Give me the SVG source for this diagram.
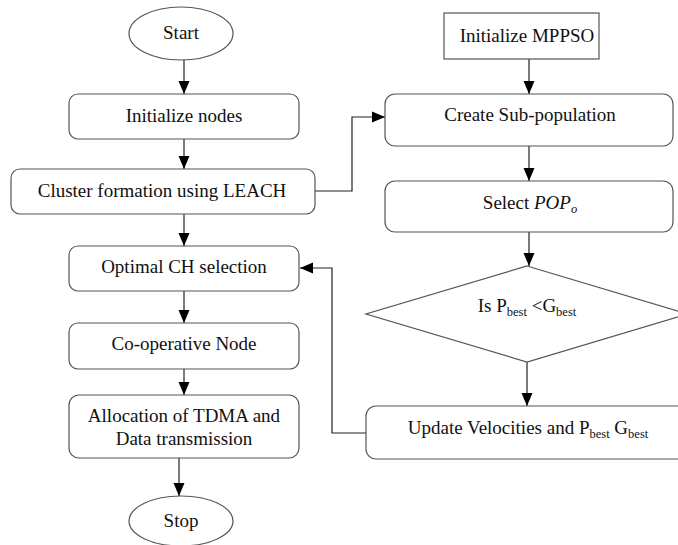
<svg xmlns="http://www.w3.org/2000/svg" width="678" height="545" viewBox="0 0 678 545">
<style>
.box{fill:#fff;stroke:#555;stroke-width:1.2}
.t{font-family:'Liberation Serif',serif;font-size:19px;fill:#111;text-anchor:middle}
.sub{font-size:12.5px}
.c{fill:none;stroke:#222;stroke-width:1.2}
</style>
<defs>
<marker id="ah" markerUnits="userSpaceOnUse" markerWidth="14" markerHeight="14" viewBox="0 0 14 14" refX="13" refY="7" orient="auto">
<path d="M0,1.5 L13,7 L0,12.5 Z" fill="#000"/>
</marker>
</defs>
<rect width="678" height="545" fill="#fff"/>
<g id="connectors">
<line class="c" x1="184" y1="60" x2="184" y2="94" marker-end="url(#ah)"/>
<line class="c" x1="184" y1="139" x2="184" y2="169" marker-end="url(#ah)"/>
<line class="c" x1="184" y1="214" x2="184" y2="246" marker-end="url(#ah)"/>
<line class="c" x1="184" y1="291" x2="184" y2="323" marker-end="url(#ah)"/>
<line class="c" x1="184" y1="369" x2="184" y2="395" marker-end="url(#ah)"/>
<line class="c" x1="179" y1="458" x2="179" y2="496" marker-end="url(#ah)"/>
<polyline class="c" points="315,191 352,191 352,117 385,117" marker-end="url(#ah)"/>
<line class="c" x1="529" y1="59" x2="529" y2="94" marker-end="url(#ah)"/>
<line class="c" x1="529" y1="146" x2="529" y2="181" marker-end="url(#ah)"/>
<line class="c" x1="529" y1="232" x2="529" y2="266" marker-end="url(#ah)"/>
<line class="c" x1="527" y1="362" x2="527" y2="406" marker-end="url(#ah)"/>
<polyline class="c" points="366,433 332,433 332,268 300,268" marker-end="url(#ah)"/>
</g>
<g id="start">
<ellipse class="box" cx="181" cy="33.5" rx="52" ry="26.5"/>
<text class="t" x="181" y="39">Start</text>
</g>
<g id="init-nodes">
<rect class="box" x="69" y="94" width="230" height="45" rx="9"/>
<text class="t" x="184" y="122">Initialize nodes</text>
</g>
<g id="cluster">
<rect class="box" x="11" y="169" width="304" height="45" rx="9"/>
<text class="t" x="162" y="197">Cluster formation using LEACH</text>
</g>
<g id="optimal-ch">
<rect class="box" x="69" y="246" width="230" height="45" rx="9"/>
<text class="t" x="184" y="273">Optimal CH selection</text>
</g>
<g id="coop">
<rect class="box" x="69" y="323" width="230" height="46" rx="9"/>
<text class="t" x="184" y="350">Co-operative Node</text>
</g>
<g id="alloc">
<rect class="box" x="69" y="395" width="230" height="63" rx="10"/>
<text class="t" x="184" y="422">Allocation of TDMA and</text>
<text class="t" x="184" y="445">Data transmission</text>
</g>
<g id="stop">
<ellipse class="box" cx="181" cy="521" rx="52" ry="25"/>
<text class="t" x="181" y="527">Stop</text>
</g>
<g id="init-mppso">
<rect class="box" x="444" y="13" width="155" height="46"/>
<text class="t" x="527" y="42">Initialize MPPSO</text>
</g>
<g id="subpop">
<rect class="box" x="385" y="94" width="288" height="52" rx="10"/>
<text class="t" x="530" y="121">Create Sub-population</text>
</g>
<g id="select">
<rect class="box" x="385" y="181" width="288" height="51" rx="10"/>
<text class="t" x="530" y="209">Select <tspan font-style="italic">POP</tspan><tspan class="sub" font-style="italic" dy="4">o</tspan></text>
</g>
<g id="decision">
<polygon class="box" points="527,266 688,314 527,362 366,314"/>
<text class="t" x="527" y="312">Is P<tspan class="sub" dy="4">best</tspan><tspan dy="-4"> &lt;G</tspan><tspan class="sub" dy="4">best</tspan></text>
</g>
<g id="update">
<rect class="box" x="366" y="406" width="330" height="53" rx="10"/>
<text class="t" x="528" y="434">Update Velocities and P<tspan class="sub" dy="4">best</tspan><tspan dy="-4"> G</tspan><tspan class="sub" dy="4">best</tspan></text>
</g>
</svg>
